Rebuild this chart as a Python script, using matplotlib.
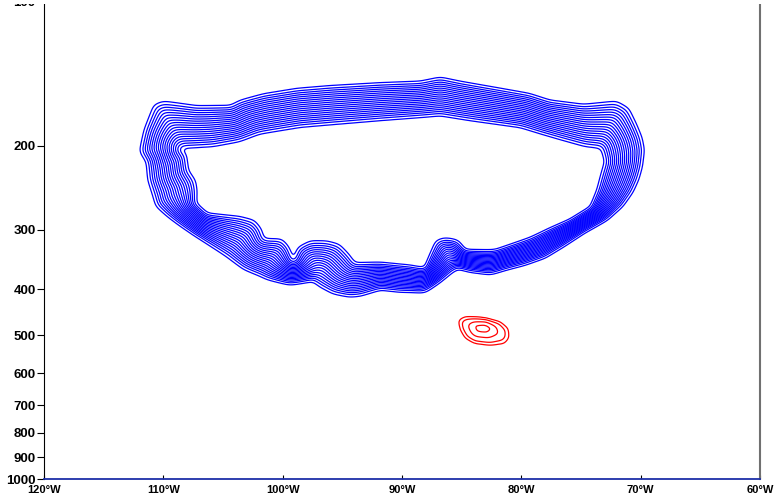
import numpy as np
import matplotlib
matplotlib.use("Agg")
import matplotlib.pyplot as plt
from matplotlib.path import Path
from matplotlib.patches import Rectangle

# outermost closed contour of the blue band (lon in degrees, pressure in hPa)
blue_outer_lon = [-111.7, -110.9, -110.0, -107.2, -104.4, -103.6, -101.6, -98.8, -96.0, -91.8,
                  -88.5, -86.8, -85.1, -81.8, -79.3, -77.6, -74.8, -72.0, -70.9, -70.3,
                  -69.8, -69.6, -69.8, -70.1, -70.6, -71.5, -72.8, -74.8, -76.5, -78.0,
                  -79.7, -81.4, -82.6, -84.3, -85.3, -86.8, -88.1, -90.2, -91.8, -93.5,
                  -94.4, -95.8, -96.9, -97.5, -99.4, -101.3, -103.3, -105.3, -106.9, -108.6,
                  -109.7, -110.7, -111.4, -111.5, -112.1]
blue_outer_p = [185, 163, 160, 164, 164, 160, 155, 151, 149, 147,
                146, 143, 146, 151, 155, 160, 163, 160, 166, 179,
                192, 204, 222, 236, 251, 269, 286, 305, 326, 344,
                356, 365, 373, 368, 362, 386, 407, 406, 402, 415,
                417, 411, 398, 386, 392, 383, 365, 336, 315, 295,
                282, 269, 236, 217, 206]

# innermost closed contour of the blue band
blue_inner_lon = [-108.4, -105.8, -103.6, -101.9, -98.5, -91.8, -86.8, -84.3, -80.1, -76.8,
                  -74.7, -73.4, -73.1, -73.4, -73.7, -74.2, -75.9, -77.6, -79.3, -81.0,
                  -82.2, -83.5, -84.7, -85.3, -86.4, -87.2, -87.7, -88.1, -89.3, -91.8,
                  -93.9, -94.4, -95.2, -96.3, -97.7, -98.8, -99.1, -99.4, -100.0, -101.5,
                  -101.7, -102.3, -103.6, -106.3, -107.2, -107.1, -107.2, -107.8, -108.0]
blue_inner_p = [204, 202, 197, 190, 184, 178, 174, 178, 184, 195,
                202, 204, 216, 230, 248, 269, 286, 298, 312, 323,
                331, 331, 331, 315, 311, 315, 339, 361, 356, 351,
                351, 336, 320, 315, 315, 326, 347, 326, 312, 312,
                298, 285, 280, 277, 264, 248, 236, 225, 207]

# red closed contours: outermost and innermost
red_outer_lon = [-85.3, -84.7, -83.5, -81.8, -81.1, -81.0, -81.4, -82.6, -83.9, -84.7, -85.1]
red_outer_p = [464, 457, 460, 469, 483, 506, 521, 524, 519, 506, 487]
red_inner_lon = [-83.9, -83.0, -82.5, -82.9, -83.7]
red_inner_p = [476, 473, 483, 492, 490]

blue_levels = np.linspace(0.04, 0.96, 20)
red_levels = [0.05, 0.2, 0.55, 0.93]

lon_ticks = [-120, -110, -100, -90, -80, -70, -60]
p_ticks = [100, 200, 300, 400, 500, 600, 700, 800, 900, 1000]


def to_px(lon, p):
    # work in screen-like units so distances look even on the log axis
    return (np.asarray(lon) + 120.0) * 11.93, np.log10(np.asarray(p, dtype=float)) * 477.0


def ring_dist(X, Y, xs, ys):
    xs = np.append(xs, xs[0])
    ys = np.append(ys, ys[0])
    d = np.full(X.shape, np.inf)
    for x0, y0, x1, y1 in zip(xs[:-1], ys[:-1], xs[1:], ys[1:]):
        dx, dy = x1 - x0, y1 - y0
        t = ((X - x0) * dx + (Y - y0) * dy) / (dx * dx + dy * dy)
        t = np.clip(t, 0, 1)
        d = np.minimum(d, np.hypot(X - x0 - t * dx, Y - y0 - t * dy))
    return d


def smooth(f, sigma):
    k = np.arange(-3 * sigma, 3 * sigma + 1)
    k = np.exp(-0.5 * (k / sigma) ** 2)
    k /= k.sum()
    n = len(k) // 2
    g = np.pad(f, n, mode="edge")
    g = np.apply_along_axis(lambda r: np.convolve(r, k, mode="valid"), 1, g)
    g = np.apply_along_axis(lambda c: np.convolve(c, k, mode="valid"), 0, g)
    return g


def band_field(X, Y, olon, op, ilon, ip, sigma):
    ox, oy = to_px(olon, op)
    ix, iy = to_px(ilon, ip)
    d_o = ring_dist(X, Y, ox, oy)
    d_i = ring_dist(X, Y, ix, iy)
    f = d_o / (d_o + d_i)
    pts = np.column_stack([X.ravel(), Y.ravel()])
    in_o = Path(np.column_stack([ox, oy])).contains_points(pts).reshape(X.shape)
    in_i = Path(np.column_stack([ix, iy])).contains_points(pts).reshape(X.shape)
    f[~in_o] = 0.0
    f[in_i] = 1.0
    return smooth(f, sigma)


lon = np.linspace(-120, -60, 700)
pres = np.logspace(2, 3, 500)
LON, P = np.meshgrid(lon, pres)
X, Y = to_px(LON, P)

blue = band_field(X, Y, blue_outer_lon, blue_outer_p, blue_inner_lon, blue_inner_p, 3)
red = band_field(X, Y, red_outer_lon, red_outer_p, red_inner_lon, red_inner_p, 2)

fig = plt.figure(figsize=(7.76, 4.99), dpi=100)
ax = fig.add_axes([44 / 776, 20 / 499, 716 / 776, 477 / 499])

ax.contour(LON, P, blue, levels=blue_levels, colors="blue", linewidths=0.9)
ax.contour(LON, P, red, levels=red_levels, colors="red", linewidths=0.9)

ax.set_yscale("log")
ax.set_ylim(1000, 100)
ax.set_xlim(-120, -60)
ax.minorticks_off()
ax.set_yticks(p_ticks)
ax.set_yticklabels([str(v) for v in p_ticks])
ax.set_xticks(lon_ticks)
ax.set_xticklabels(["%d°W" % abs(v) for v in lon_ticks])

for lab in ax.get_yticklabels():
    lab.set_fontfamily("Liberation Sans")
    lab.set_fontweight("bold")
    lab.set_fontsize(9.5)
for lab in ax.get_xticklabels():
    lab.set_fontfamily("Liberation Sans")
    lab.set_fontweight("bold")
    lab.set_fontsize(8)

ax.tick_params(axis="y", direction="out", length=5, width=0.8, pad=1)
ax.tick_params(axis="x", direction="in", length=3, width=0.8, pad=4)

ax.spines["top"].set_visible(False)
ax.spines["right"].set_color("#707070")
ax.spines["right"].set_linewidth(1.5)
ax.spines["left"].set_color("black")
ax.spines["bottom"].set_color("#1c2fa8")
ax.spines["bottom"].set_linewidth(1.3)

# the top strip of the page is blank, trimming the 100 hPa label
fig.patches.append(Rectangle((0, 1 - 4 / 499), 1, 4 / 499, transform=fig.transFigure,
                             facecolor="white", edgecolor="none", zorder=10))

fig.savefig("out.png", dpi=100)
